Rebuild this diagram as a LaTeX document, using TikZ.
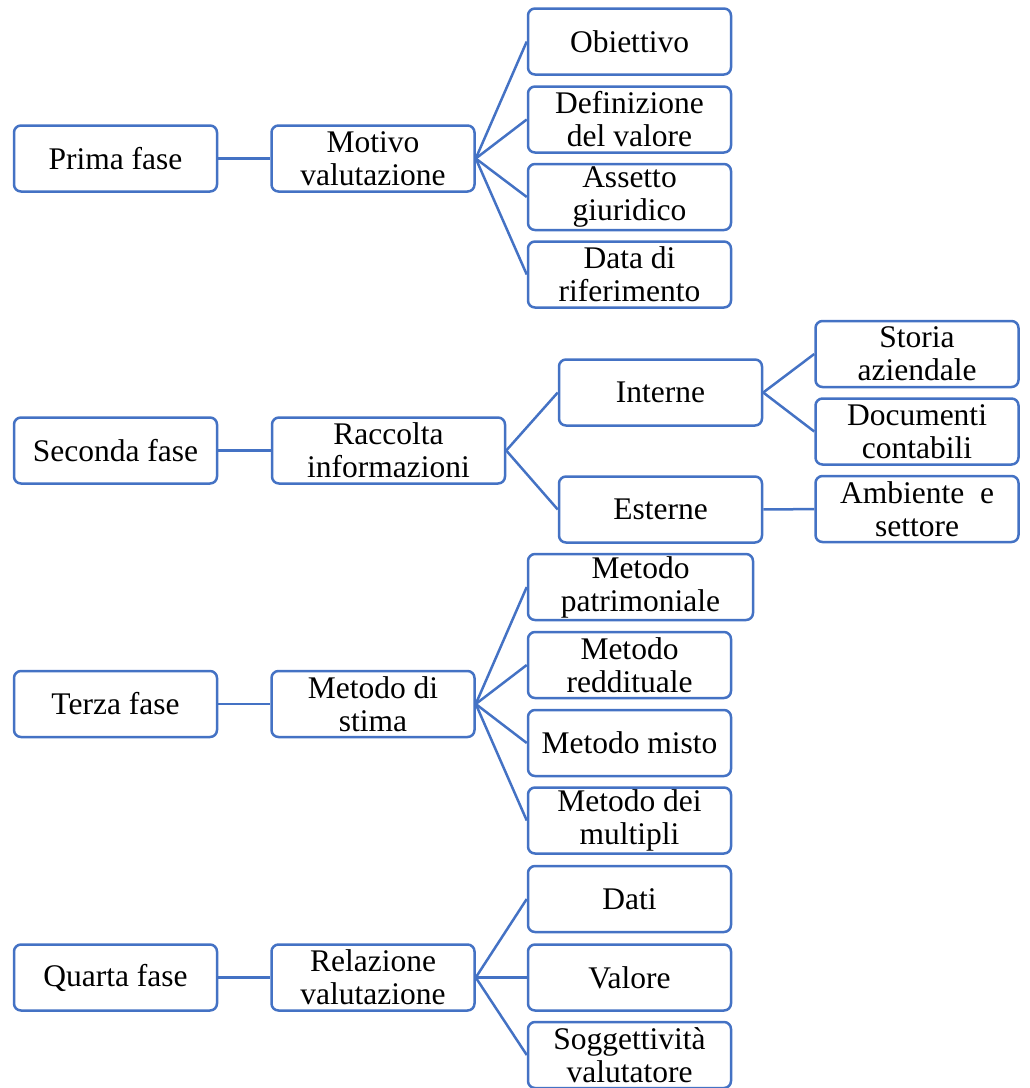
\documentclass[tikz,border=0pt]{standalone}
\usepackage{fontspec}
\setmainfont{Liberation Serif}
\usepackage{tikz}

\definecolor{boxblue}{RGB}{68,114,196}

\begin{document}
\begin{tikzpicture}[x=1pt,y=-1pt,
    box/.style={draw=boxblue, line width=2.5pt, rounded corners=7pt, fill=white,
      minimum width=203pt, minimum height=66pt, inner sep=0pt, align=center,
      font=\fontsize{31.5}{33}\selectfont},
    link/.style={draw=boxblue, line width=2.5pt}]
    \def \colA {115.5}
    \def \colB {373}
    \def \colC {629.5}
    \useasboundingbox (0,0) rectangle (1030,1088);

    % prima fase
    \node[box] (prima) at (\colA,158.5) {Prima fase};
    \node[box] (motivo) at (\colB,158.5) {Motivo\\valutazione};
    \node[box] (obiettivo) at (\colC,41.5) {Obiettivo};
    \node[box] (definizione) at (\colC,119.5) {Definizione\\del valore};
    \node[box] (assetto) at (\colC,197) {Assetto\\giuridico};
    \node[box] (data) at (\colC,274.5) {Data di\\riferimento};
    \draw[link] (prima) -- (motivo);
    \foreach \s in {obiettivo,definizione,assetto,data}
      \draw[link] (motivo.east) -- (\s.west);

    % seconda fase
    \node[box] (seconda) at (\colA,450.5) {Seconda fase};
    \node[box, minimum width=233pt] (raccolta) at (388.5,450.5) {Raccolta\\informazioni};
    \node[box] (interne) at (660.5,392.5) {Interne};
    \node[box] (esterne) at (660.5,509.5) {Esterne};
    \node[box] (storia) at (917,354) {Storia\\aziendale};
    \node[box] (documenti) at (917,431.5) {Documenti\\contabili};
    \node[box] (ambiente) at (917,509) {Ambiente~~e\\settore};
    \draw[link] (seconda) -- (raccolta);
    \foreach \s in {interne,esterne}
      \draw[link] (raccolta.east) -- (\s.west);
    \foreach \s in {storia,documenti}
      \draw[link] (interne.east) -- (\s.west);
    \draw[link] (esterne) -- (ambiente);

    % terza fase
    \node[box] (terza) at (\colA,704) {Terza fase};
    \node[box] (stima) at (\colB,704) {Metodo di\\stima};
    \node[box, minimum width=225pt] (patrimoniale) at (640.5,587) {Metodo\\patrimoniale};
    \node[box] (reddituale) at (\colC,665) {Metodo\\reddituale};
    \node[box] (misto) at (\colC,743) {Metodo misto};
    \node[box] (multipli) at (\colC,820.5) {Metodo dei\\multipli};
    \draw[link] (terza) -- (stima);
    \foreach \s in {patrimoniale,reddituale,misto,multipli}
      \draw[link] (stima.east) -- (\s.west);

    % quarta fase
    \node[box] (quarta) at (\colA,977.5) {Quarta fase};
    \node[box] (relazione) at (\colB,977.5) {Relazione\\valutazione};
    \node[box] (dati) at (\colC,899) {Dati};
    \node[box] (valore) at (\colC,977.5) {Valore};
    \node[box] (soggettivita) at (\colC,1055) {Soggettività\\valutatore};
    \draw[link] (quarta) -- (relazione);
    \foreach \s in {dati,valore,soggettivita}
      \draw[link] (relazione.east) -- (\s.west);
\end{tikzpicture}
\end{document}
